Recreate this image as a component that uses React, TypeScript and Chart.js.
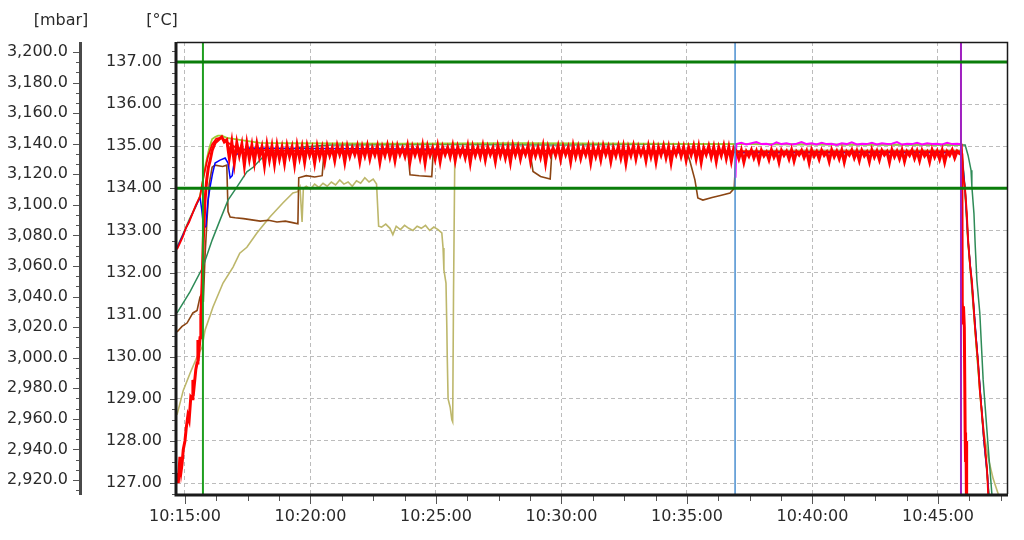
import React, { useEffect, useRef } from "react";
import { Chart, registerables } from "chart.js";
Chart.register(...registerables);

// ---- axis ranges (seconds since 10:00:00, °C, mbar) ----
const X_MIN = 881;
const X_MAX = 2865;
const C_MIN = 126.74;
const C_MAX = 137.475;
const MBAR_MIN = 2910.8;
const MBAR_MAX = 3206.5;

const timeTicks = [900, 1200, 1500, 1800, 2100, 2400, 2700];
const celsiusTicks = [127, 128, 129, 130, 131, 132, 133, 134, 135, 136, 137];
const mbarTicks = [2920, 2940, 2960, 2980, 3000, 3020, 3040, 3060, 3080, 3100, 3120, 3140, 3160, 3180, 3200];

const limitValues = [137, 134];
const markerTimes = [943, 2215, 2755];

// ---- series (time s, value °C) ----
const tealTimes = [881, 912, 943, 965, 984, 1003, 1024, 1048, 1063, 1084, 1103, 1144, 1182, 1247, 1500, 1800, 2100, 2400, 2765, 2772, 2779, 2781, 2786, 2789, 2793, 2800, 2808, 2820, 2829];
const tealValues = [131.04, 131.54, 132.13, 132.77, 133.25, 133.72, 134.03, 134.39, 134.5, 134.72, 134.84, 134.91, 134.98, 135.03, 135.04, 135.03, 135.05, 135.04, 135.03, 134.78, 134.43, 134.05, 133.4, 132.65, 131.82, 131.04, 129.45, 127.86, 126.72];

const ygTimes = [881, 895, 910, 925, 936, 943, 950, 958, 965, 972, 979, 988, 1000, 1031, 1079, 1150, 1400, 1700, 2000, 2215, 2500, 2755, 2757, 2765, 2772, 2781, 2793, 2805, 2815, 2822];
const ygValues = [132.6, 132.9, 133.25, 133.55, 133.82, 134.2, 134.6, 134.95, 135.17, 135.22, 135.25, 135.25, 135.2, 135.15, 135.08, 135.07, 135.06, 135.07, 135.06, 135.05, 135.04, 135.04, 134.9, 133.9, 132.7, 131.7, 130.1, 128.6, 127.5, 126.7];

const magentaStart = 2218;
const magentaStep = 12;
const magentaValues = [135.05, 135.08, 135.04, 135.07, 135.1, 135.05, 135.06, 135.03, 135.09, 135.05, 135.07, 135.04, 135.06, 135.1, 135.05, 135.07, 135.04, 135.08, 135.05, 135.06, 135.03, 135.07, 135.05, 135.09, 135.04, 135.06, 135.05, 135.08, 135.04, 135.07, 135.05, 135.06, 135.1, 135.04, 135.06, 135.05, 135.08, 135.04, 135.07, 135.05, 135.06, 135.04, 135.08, 135.05, 135.06];
const magentaEdgeTimes = [2216, 2755, 2757];
const magentaEdgeValues = [134.25, 135.05, 134.7];

const blueTimes = [881, 900, 920, 936, 940, 945, 950, 955, 960, 966, 972, 984, 996, 1003, 1008, 1013, 1020, 1048, 1100, 1500, 2000, 2500, 2755, 2757, 2765, 2772, 2781, 2796, 2810, 2818, 2822];
const blueValues = [132.58, 133.0, 133.45, 133.79, 133.5, 133.05, 133.1, 133.7, 134.03, 134.35, 134.6, 134.67, 134.72, 134.6, 134.25, 134.3, 134.78, 134.96, 134.95, 134.93, 134.85, 134.85, 134.85, 134.8, 133.95, 132.75, 131.75, 129.85, 128.0, 127.2, 126.6];

const brownTimes = [881, 893, 905, 919, 929, 936, 941, 944, 948, 953, 958, 965, 972, 990, 1000, 1003, 1008, 1020, 1040, 1060, 1080, 1100, 1120, 1140, 1160, 1170, 1172, 1190, 1210, 1228, 1232, 1250, 1433, 1438, 1460, 1490, 1493, 1500, 1725, 1732, 1750, 1773, 1777, 2100, 2107, 2119, 2126, 2138, 2160, 2180, 2203, 2213, 2217, 2500, 2755, 2757, 2765, 2772, 2781, 2796, 2810, 2818, 2822];
const brownValues = [130.59, 130.72, 130.8, 131.04, 131.1, 131.42, 131.5, 131.3, 132.4, 133.3, 134.1, 134.5, 134.55, 134.52, 134.55, 133.45, 133.32, 133.3, 133.28, 133.25, 133.22, 133.24, 133.2, 133.22, 133.18, 133.16, 134.25, 134.3, 134.27, 134.3, 134.8, 134.85, 134.85, 134.32, 134.3, 134.28, 134.8, 134.85, 134.85, 134.4, 134.28, 134.22, 134.85, 134.85, 134.65, 134.2, 133.77, 133.72, 133.78, 133.83, 133.89, 134.0, 134.85, 134.85, 134.85, 134.85, 133.9, 132.7, 131.7, 129.8, 128.0, 127.2, 126.6];

const khakiTimes = [881, 896, 912, 929, 941, 948, 967, 991, 1015, 1031, 1048, 1072, 1103, 1134, 1158, 1170, 1175, 1180, 1183, 1190, 1200, 1210, 1220, 1230, 1240, 1250, 1260, 1270, 1280, 1290, 1300, 1310, 1320, 1330, 1340, 1350, 1358, 1363, 1370, 1380, 1390, 1397, 1405, 1415, 1425, 1435, 1445, 1455, 1465, 1475, 1485, 1495, 1505, 1514, 1517, 1519, 1524, 1526, 1527, 1529, 1534, 1538, 1540, 1542, 1545, 1550, 1600, 2000, 2400, 2755, 2765, 2777, 2789, 2800, 2810, 2820, 2832, 2844];
const khakiValues = [128.62, 129.2, 129.6, 130.0, 130.23, 130.63, 131.18, 131.75, 132.13, 132.46, 132.6, 132.94, 133.32, 133.65, 133.89, 133.92, 134.03, 133.2, 134.0, 134.05, 133.98, 134.1, 134.02, 134.12, 134.05, 134.15, 134.08, 134.2, 134.1, 134.15, 134.05, 134.18, 134.12, 134.25, 134.15, 134.22, 134.1, 133.1, 133.08, 133.15, 133.05, 132.9, 133.1, 133.02, 133.12, 133.05, 133.0, 133.1, 133.05, 133.12, 133.0, 133.08, 133.02, 132.94, 132.58, 132.06, 131.75, 130.7, 130.0, 129.0, 128.8, 128.5, 128.45, 131.5, 134.7, 134.88, 134.9, 134.88, 134.9, 134.9, 133.9, 132.1, 130.6, 129.2, 128.2, 127.6, 127.1, 126.74];

const redThinTimes = [881, 888, 895, 902, 910, 918, 926, 936, 945, 955, 965, 975, 988, 1000, 1020, 1040, 1200, 1600, 2000, 2400, 2755, 2757, 2760, 2765, 2769, 2772, 2777, 2781, 2789, 2796, 2800, 2805, 2810, 2817, 2820];
const redThinValues = [132.55, 132.7, 132.85, 133.05, 133.2, 133.4, 133.6, 133.8, 134.3, 134.75, 135.05, 135.18, 135.2, 135.1, 134.98, 134.92, 134.88, 134.9, 134.88, 134.87, 134.88, 134.95, 134.33, 133.96, 133.41, 132.77, 132.13, 131.82, 130.63, 129.85, 129.2, 128.66, 128.1, 127.38, 126.72];

const redRiseTimes = [881, 884, 888, 891, 893, 896, 900, 903, 907, 910, 914, 917, 919, 922, 926, 929, 931, 934, 936, 938, 941, 944, 948, 952, 956, 960, 965, 972, 980, 988, 994];
const redRiseValues = [127.24, 127.0, 127.62, 127.3, 127.45, 127.8, 128.0, 128.3, 128.6, 128.5, 129.04, 129.0, 129.45, 129.3, 129.7, 129.85, 130.4, 130.2, 130.45, 130.94, 131.75, 132.8, 133.72, 134.2, 134.5, 134.65, 134.9, 135.08, 135.15, 135.22, 135.1];

const redBandStart = 1000;
const redBandStep = 6;
const redBandValues = [
  135.15, 134.72, 135.1, 134.6, 135.08, 134.78, 135.05, 134.55, 135.06, 134.7,
  135.02, 134.62, 135.05, 134.75, 134.98, 134.55, 135.03, 134.68, 135.0, 134.58,
  135.02, 134.7, 134.97, 134.6, 135.01, 134.76, 134.98, 134.57, 135.02, 134.72,
  134.99, 134.62, 135.01, 134.78, 134.96, 134.6, 135.0, 134.74, 134.97, 134.63,
  135.0, 134.78, 134.96, 134.66, 135.01, 134.8, 134.98, 134.62, 134.99, 134.76,
  134.97, 134.8, 135.0, 134.64, 134.98, 134.77, 135.01, 134.7, 134.96, 134.79,
  135.0, 134.62, 134.97, 134.78, 135.02, 134.74, 134.98, 134.66, 135.0, 134.8,
  134.96, 134.76, 135.01, 134.63, 134.98, 134.79, 134.97, 134.72, 135.01, 134.6,
  134.99, 134.78, 134.96, 134.7, 135.0, 134.64, 134.98, 134.8, 134.97, 134.75,
  135.01, 134.66, 134.98, 134.79, 134.96, 134.73, 135.0, 134.61, 134.99, 134.78,
  134.97, 134.75, 135.01, 134.68, 134.98, 134.8, 134.96, 134.64, 135.0, 134.77,
  134.98, 134.72, 134.97, 134.62, 135.01, 134.79, 134.99, 134.7, 134.96, 134.8,
  135.0, 134.65, 134.98, 134.77, 134.97, 134.74, 135.01, 134.6, 134.98, 134.79,
  134.96, 134.78, 135.0, 134.69, 134.99, 134.8, 134.97, 134.63, 135.01, 134.75,
  134.98, 134.71, 134.96, 134.79, 135.0, 134.62, 134.98, 134.76, 134.97, 134.68,
  135.01, 134.8, 134.98, 134.64, 134.96, 134.77, 135.0, 134.72, 134.99, 134.6,
  134.97, 134.78, 135.01, 134.7, 134.98, 134.8, 134.96, 134.66, 135.0, 134.75,
  134.99, 134.63, 134.97, 134.79, 135.01, 134.73, 134.98, 134.61, 134.96, 134.8,
  135.0, 134.76, 134.98, 134.67, 134.97, 134.79, 135.01, 134.7, 134.99, 134.62,
  134.96, 134.8, 135.0, 134.74, 134.98, 134.64, 134.97, 134.78, 135.01, 134.71,
  134.98, 134.65, 134.96, 134.88, 134.7, 134.9, 134.62, 134.87, 134.76, 134.91,
  134.72, 134.88, 134.64, 134.9, 134.77, 134.86, 134.68, 134.91, 134.74, 134.87,
  134.62, 134.9, 134.78, 134.88, 134.7, 134.91, 134.65, 134.87, 134.79, 134.9,
  134.73, 134.88, 134.61, 134.91, 134.76, 134.87, 134.69, 134.9, 134.78, 134.86,
  134.64, 134.91, 134.75, 134.88, 134.7, 134.9, 134.62, 134.87, 134.79, 134.91,
  134.72, 134.88, 134.66, 134.9, 134.77, 134.86, 134.63, 134.91, 134.74, 134.88,
  134.68, 134.9, 134.79, 134.87, 134.62, 134.91, 134.75, 134.88, 134.7, 134.9,
  134.64, 134.87, 134.78, 134.91, 134.71, 134.88, 134.66, 134.9, 134.77, 134.86,
  134.63, 134.91, 134.74, 134.88, 134.69, 134.9, 134.62, 134.87, 134.78, 134.91,
  134.72, 134.88, 134.82,
];
const redDropTimes = [2757, 2758, 2760, 2761, 2763, 2765, 2766, 2767, 2768, 2769];
const redDropValues = [134.8, 131.3, 130.8, 131.2, 130.7, 128.2, 127.5, 128.0, 127.6, 126.0];

// ---- helpers ----
const FONT_FAMILY = '"DejaVu Sans", Verdana, sans-serif';
const FONT_SIZE = 16;
const TEXT_COLOR = "#2a2a2a";

type P = { x: number; y: number };
const pairs = (ts: number[], vs: number[]): P[] => ts.map((t, i) => ({ x: t, y: vs[i] }));
const stepped = (start: number, step: number, vs: number[]): P[] => vs.map((v, i) => ({ x: start + i * step, y: v }));

function fmtTime(v: number): string {
  const total = Math.round(v);
  const m = Math.floor(total / 60);
  const s = total % 60;
  return `10:${String(m).padStart(2, "0")}:${String(s).padStart(2, "0")}`;
}

function line(data: P[], color: string, width: number) {
  return {
    data,
    borderColor: color,
    backgroundColor: color,
    borderWidth: width,
    pointRadius: 0,
    fill: false,
    tension: 0,
    clip: 0,
    yAxisID: "y",
    xAxisID: "x",
  };
}

const decorPlugin = {
  id: "decor",
  afterDraw(chart: any) {
    const { ctx, chartArea: a, scales } = chart;
    const yC = scales.y;
    const yM = scales.mbar;
    const xS = scales.x;
    ctx.save();

    // tick marks
    ctx.strokeStyle = "#555";
    ctx.lineWidth = 1;
    ctx.beginPath();
    for (let k = 0; k <= 44; k++) {
      const v = 126.75 + k * 0.25;
      if (v < C_MIN || v > C_MAX) continue;
      const major = Math.abs(v - Math.round(v)) < 1e-6;
      const y = Math.round(yC.getPixelForValue(v)) + 0.5;
      const len = major ? 5 : 3;
      ctx.moveTo(a.left - 2 - len, y);
      ctx.lineTo(a.left - 2, y);
    }
    for (let k = -2; k <= 46; k++) {
      const v = 2920 + (k * 20) / 3;
      if (v < MBAR_MIN || v > MBAR_MAX) continue;
      const major = k % 3 === 0;
      const y = Math.round(yM.getPixelForValue(v)) + 0.5;
      const len = major ? 6 : 3;
      ctx.moveTo(79 - len, y);
      ctx.lineTo(79, y);
    }
    for (let t = 900; t <= X_MAX; t += 75) {
      const major = (t - 900) % 300 === 0;
      const x = Math.round(xS.getPixelForValue(t)) + 0.5;
      const len = major ? 8 : 5;
      ctx.moveTo(x, a.bottom + 2);
      ctx.lineTo(x, a.bottom + 2 + len);
    }
    ctx.stroke();

    // mbar axis line
    ctx.strokeStyle = "#4a4a4a";
    ctx.lineWidth = 3;
    ctx.beginPath();
    ctx.moveTo(80.5, a.top);
    ctx.lineTo(80.5, a.bottom + 1);
    ctx.stroke();

    // frame: thin top / right
    ctx.strokeStyle = "#1a1a1a";
    ctx.lineWidth = 1.5;
    ctx.beginPath();
    ctx.moveTo(a.left, a.top + 0.5);
    ctx.lineTo(a.right + 0.5, a.top + 0.5);
    ctx.lineTo(a.right + 0.5, a.bottom);
    ctx.stroke();

    // thick left / bottom axes
    ctx.lineWidth = 3;
    ctx.beginPath();
    ctx.moveTo(a.left - 1, a.top);
    ctx.lineTo(a.left - 1, a.bottom + 1);
    ctx.lineTo(a.right + 1, a.bottom + 1);
    ctx.stroke();

    // unit titles
    ctx.fillStyle = TEXT_COLOR;
    ctx.font = `${FONT_SIZE}px ${FONT_FAMILY}`;
    ctx.textAlign = "center";
    ctx.textBaseline = "middle";
    ctx.fillText("[mbar]", 61, 21);
    ctx.fillText("[°C]", 162, 21);
    ctx.restore();
  },
};

export default function App() {
  const ref = useRef<HTMLCanvasElement | null>(null);

  useEffect(() => {
    document.body.style.margin = "0";
    const canvas = ref.current;
    if (!canvas) return;

    const markerColors = ["#1f9e1f", "#4a8fd0", "#a020c0"];
    const markerWidths = [2, 1.5, 2];

    const datasets: any[] = [];
    limitValues.forEach((v) => {
      datasets.push(line([{ x: X_MIN, y: v }, { x: X_MAX, y: v }], "#0a7d0a", 3));
    });
    markerTimes.forEach((t, i) => {
      datasets.push(line([{ x: t, y: C_MIN }, { x: t, y: C_MAX }], markerColors[i], markerWidths[i]));
    });
    const redThick = [
      ...pairs(redRiseTimes, redRiseValues),
      ...stepped(redBandStart, redBandStep, redBandValues),
      ...pairs(redDropTimes, redDropValues),
    ];
    datasets.push(line(redThick, "#ff0000", 3));
    datasets.push(line(pairs(redThinTimes, redThinValues), "#ff0000", 1.8));
    const magenta = [
      { x: magentaEdgeTimes[0], y: magentaEdgeValues[0] },
      ...stepped(magentaStart, magentaStep, magentaValues),
      { x: magentaEdgeTimes[1], y: magentaEdgeValues[1] },
      { x: magentaEdgeTimes[2], y: magentaEdgeValues[2] },
    ];
    datasets.push(line(magenta, "#ff00ff", 2));
    datasets.push(line(pairs(blueTimes, blueValues), "#0000ff", 1.5));
    datasets.push(line(pairs(ygTimes, ygValues), "#9acd32", 1.8));
    datasets.push(line(pairs(tealTimes, tealValues), "#2e8b57", 1.5));
    datasets.push(line(pairs(brownTimes, brownValues), "#8b4513", 1.6));
    datasets.push(line(pairs(khakiTimes, khakiValues), "#bdb76b", 1.6));

    const tickFont = { family: FONT_FAMILY, size: FONT_SIZE };

    const chart = new Chart(canvas, {
      type: "line",
      data: { datasets },
      plugins: [decorPlugin],
      options: {
        responsive: false,
        animation: false,
        events: [],
        layout: { padding: { top: 42, right: 17, bottom: 0, left: 0 } },
        plugins: { legend: { display: false }, tooltip: { enabled: false } },
        scales: {
          x: {
            type: "linear",
            min: X_MIN,
            max: X_MAX,
            afterBuildTicks: (s: any) => {
              s.ticks = timeTicks.map((v) => ({ value: v }));
            },
            afterFit: (s: any) => {
              s.height = 46;
            },
            grid: { color: "#bcbcbc", lineWidth: 1, drawTicks: false },
            border: { display: false, dash: [4, 3] },
            ticks: {
              autoSkip: false,
              maxRotation: 0,
              padding: 13,
              color: TEXT_COLOR,
              font: tickFont,
              callback: (v: any) => fmtTime(Number(v)),
            },
          },
          mbar: {
            type: "linear",
            position: "left",
            weight: 2,
            min: MBAR_MIN,
            max: MBAR_MAX,
            afterBuildTicks: (s: any) => {
              s.ticks = mbarTicks.map((v) => ({ value: v }));
            },
            afterFit: (s: any) => {
              s.width = 83;
            },
            grid: { drawOnChartArea: false, drawTicks: false },
            border: { display: false },
            ticks: {
              padding: 15,
              color: TEXT_COLOR,
              font: tickFont,
              callback: (v: any) =>
                Number(v).toLocaleString("en-US", { minimumFractionDigits: 1, maximumFractionDigits: 1 }),
            },
          },
          y: {
            type: "linear",
            position: "left",
            weight: 1,
            min: C_MIN,
            max: C_MAX,
            afterBuildTicks: (s: any) => {
              s.ticks = celsiusTicks.map((v) => ({ value: v }));
            },
            afterFit: (s: any) => {
              s.width = 94;
            },
            grid: { color: "#bcbcbc", lineWidth: 1, drawTicks: false },
            border: { display: false, dash: [4, 3] },
            ticks: {
              padding: 15,
              color: TEXT_COLOR,
              font: tickFont,
              callback: (v: any) => Number(v).toFixed(2),
            },
          },
        },
      } as any,
    });
    return () => chart.destroy();
  }, []);

  return (
    <div style={{ width: 1024, height: 540, position: "relative", background: "#fff" }}>
      <canvas ref={ref} width={1024} height={540} />
    </div>
  );
}
